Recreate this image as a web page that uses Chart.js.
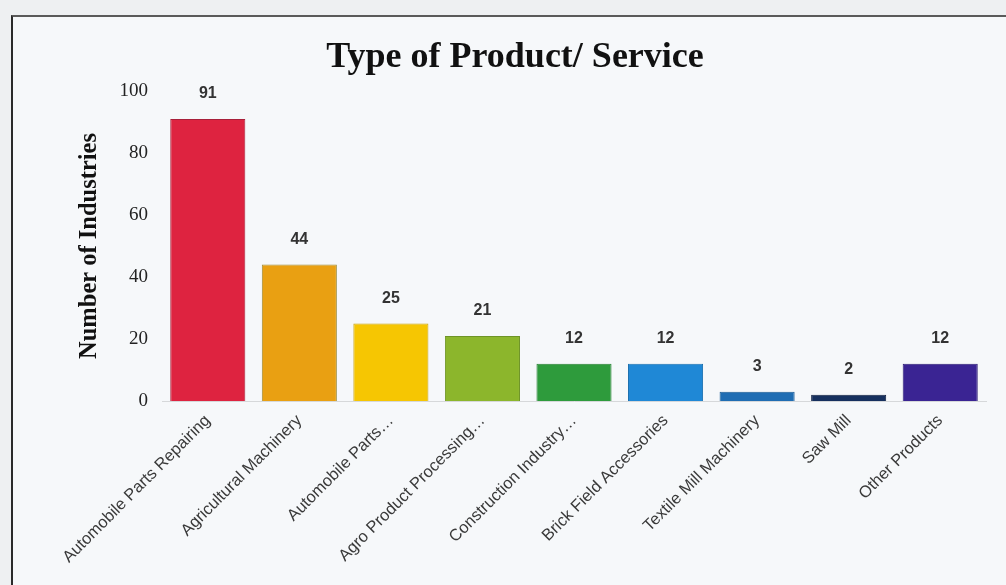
<!DOCTYPE html>
<html>
<head>
<meta charset="utf-8">
<script src="https://cdn.jsdelivr.net/npm/chart.js@4.4.1/dist/chart.umd.min.js"></script>
<style>
  html, body { margin: 0; padding: 0; }
  body { width: 1006px; height: 585px; background: #eef0f2; position: relative; overflow: hidden; }
  #frame {
    position: absolute; left: 11px; top: 15px; width: 1000px; height: 600px;
    background: #f6f8fa;
    border-top: 2px solid #5a5a5a;
    border-left: 2px solid #2a2a2a;
  }
  #wrap { position: absolute; left: 0; top: 0; width: 1006px; height: 585px; }
</style>
</head>
<body>
<div id="frame"></div>
<div id="wrap"><canvas id="chart" width="1006" height="585"></canvas></div>
<script>
// Product / service categories of the surveyed industries
const categories = [
  'Automobile Parts Repairing',
  'Agricultural Machinery',
  'Automobile Parts…',
  'Agro Product Processing…',
  'Construction Industry…',
  'Brick Field Accessories',
  'Textile Mill Machinery',
  'Saw Mill',
  'Other Products'
];
const industryCounts = [91, 44, 25, 21, 12, 12, 3, 2, 12];
const yTicks = [0, 20, 40, 60, 80, 100];
const barColors = ['#de2340', '#e9a012', '#f6c602', '#8cb62c', '#2e9b3c', '#1f88d6', '#1f6db3', '#16305e', '#3a2493'];
const barEdges  = ['#a8203a', '#9c8a3a', '#c9a20a', '#6e9426', '#267f31', '#1a6fae', '#195a93', '#101f40', '#2c1c74'];

// Writes each bar's value above it
const valueLabels = {
  id: 'valueLabels',
  afterDatasetsDraw(chart) {
    const ctx = chart.ctx;
    const meta = chart.getDatasetMeta(0);
    ctx.save();
    ctx.font = 'bold 16px "Liberation Sans", Arial, sans-serif';
    ctx.fillStyle = '#333333';
    ctx.textAlign = 'center';
    ctx.textBaseline = 'middle';
    meta.data.forEach((bar, i) => {
      ctx.fillText(String(industryCounts[i]), bar.x, bar.y - 25);
    });
    ctx.restore();
  }
};

new Chart(document.getElementById('chart'), {
  type: 'bar',
  data: {
    labels: categories,
    datasets: [{
      data: industryCounts,
      backgroundColor: barColors,
      borderColor: barEdges,
      borderWidth: 1,
      barPercentage: 0.82,
      categoryPercentage: 1.0
    }]
  },
  options: {
    responsive: false,
    animation: false,
    layout: { padding: { left: 44, right: 20, top: 0, bottom: 0 } },
    plugins: {
      legend: { display: false },
      tooltip: { enabled: false },
      title: {
        display: true,
        text: 'Type of Product/ Service',
        color: '#111111',
        font: { family: '"Liberation Serif", "Times New Roman", serif', size: 36, weight: 'bold', lineHeight: 1.2 },
        padding: { top: 36.4, bottom: 11.4 }
      }
    },
    scales: {
      x: {
        grid: { display: false, drawTicks: false },
        border: { display: true, color: '#d6d8da', width: 1 },
        ticks: {
          autoSkip: false,
          minRotation: 45,
          maxRotation: 45,
          padding: 10,
          color: '#3a3a3a',
          font: { family: '"Liberation Sans", Arial, sans-serif', size: 16.5 }
        },
        afterFit(scale) { scale.height = 184; }
      },
      y: {
        min: 0,
        max: 100,
        afterBuildTicks(scale) { scale.ticks = yTicks.map(v => ({ value: v })); },
        grid: { display: false, drawTicks: false },
        border: { display: false },
        ticks: {
          padding: 14,
          color: '#222222',
          font: { family: '"Liberation Serif", "Times New Roman", serif', size: 19 }
        },
        title: {
          display: true,
          text: 'Number of Industries',
          color: '#111111',
          font: { family: '"Liberation Serif", "Times New Roman", serif', size: 24.5, weight: 'bold', lineHeight: 1.2 },
          padding: { top: 31, bottom: 0 }
        },
        afterFit(scale) { scale.width = 118; }
      }
    }
  },
  plugins: [valueLabels]
});
</script>
</body>
</html>
